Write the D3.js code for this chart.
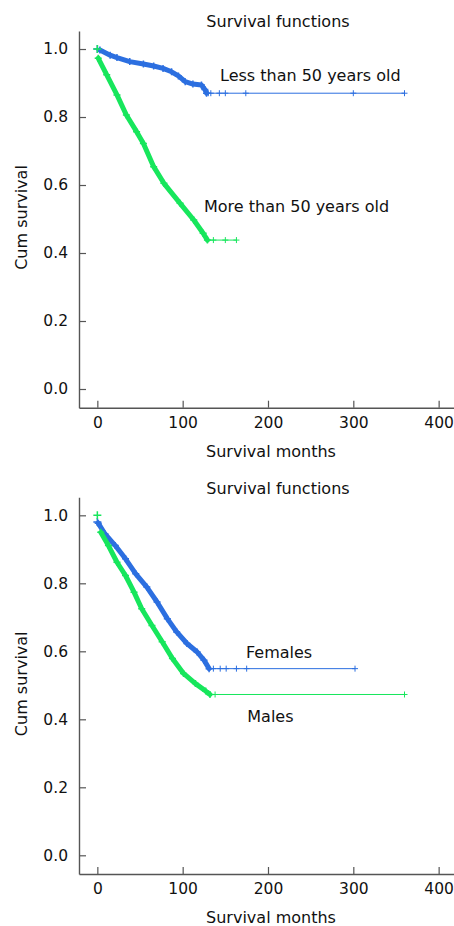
<!DOCTYPE html>
<html>
<head>
<meta charset="utf-8">
<script src="https://cdn.jsdelivr.net/npm/d3@7"></script>
<style>
  body { margin: 0; background: #fff; }
  svg { display: block; }
  text { font-family: "DejaVu Sans", Verdana, sans-serif; fill: #111; }
</style>
</head>
<body>
<svg id="chart" width="454" height="926"></svg>
<script>
// ticks
var xTicks = [0, 100, 200, 300, 400];
var yTicks = [0, 0.2, 0.4, 0.6, 0.8, 1.0];

// panel 1 - age groups
var youngMonths = [0, 3, 15, 23, 38, 54, 66, 77, 87, 95, 103, 112, 122, 126, 128];
var youngSurv = [1.0, 0.997, 0.982, 0.975, 0.963, 0.956, 0.95, 0.943, 0.933, 0.921, 0.904, 0.897, 0.894, 0.881, 0.87];
var youngCensor = [130, 133, 143, 150, 174, 300, 360];

var oldMonths = [0, 1, 11, 23, 34, 46, 54, 66, 78, 97, 113, 124, 129];
var oldSurv = [1.0, 0.973, 0.924, 0.865, 0.806, 0.757, 0.722, 0.654, 0.605, 0.546, 0.497, 0.458, 0.438];
var oldCensor = [136, 150, 163];

// panel 2 - sex
var femaleMonths = [0, 1, 9, 21, 33, 45, 58, 70, 82, 93, 105, 117, 125, 131];
var femaleSurv = [0.98, 0.977, 0.945, 0.911, 0.872, 0.828, 0.789, 0.745, 0.696, 0.657, 0.623, 0.598, 0.574, 0.549];
var femaleCensor = [136, 144, 151, 163, 175, 302];

var maleMonths = [0, 4, 13, 23, 33, 43, 52, 64, 76, 88, 101, 115, 127, 132];
var maleSurv = [1.0, 0.95, 0.911, 0.862, 0.823, 0.774, 0.725, 0.676, 0.628, 0.579, 0.535, 0.505, 0.483, 0.473];
var maleCensor = [138, 360];

var blue = "#2c6fe0";
var green = "#17e65c";

var svg = d3.select("#chart");

function makeSeries(months, surv, censor, color) {
    return {
        pts: months.map(function (m, i) { return [m, surv[i]]; }),
        censor: censor,
        color: color
    };
}

function plus(g, cx, cy, r, color, w) {
    g.append("path")
        .attr("d", "M" + (cx - r) + "," + cy + "H" + (cx + r) + "M" + cx + "," + (cy - r) + "V" + (cy + r))
        .attr("stroke", color)
        .attr("stroke-width", w)
        .attr("fill", "none");
}

function panel(off, series, labels) {
    var g = svg.append("g");
    var x = d3.scaleLinear().domain([-21.5, 418]).range([79, 454]);
    var y = d3.scaleLinear().domain([-0.055, 1.053]).range([off + 407.7, off + 31]);

    //AXES
    var xAxis = d3.axisBottom(x).tickValues(xTicks).tickSize(-7).tickSizeOuter(0).tickPadding(9);
    var yAxis = d3.axisLeft(y).tickValues(yTicks).tickSize(-7).tickSizeOuter(0).tickPadding(11)
        .tickFormat(d3.format(".1f"));

    var gx = g.append("g").attr("transform", "translate(0," + y.range()[0] + ")").call(xAxis);
    var gy = g.append("g").attr("transform", "translate(79,0)").call(yAxis);
    [gx, gy].forEach(function (a) {
        a.select(".domain").attr("stroke", "#555").attr("stroke-width", 1.4);
        a.selectAll(".tick line").attr("stroke", "#555").attr("stroke-width", 1.2);
        a.selectAll(".tick text")
            .attr("font-family", "DejaVu Sans")
            .attr("font-size", "15.5px")
            .attr("fill", "#111");
    });

    //CURVES
    var line = d3.line().x(function (d) { return x(d[0]); }).y(function (d) { return y(d[1]); });
    series.forEach(function (s) {
        var last = s.pts[s.pts.length - 1];
        var tailEnd = d3.max(s.censor);
        g.append("path")
            .attr("d", line([last, [tailEnd, last[1]]]))
            .attr("stroke", s.color)
            .attr("stroke-width", 1)
            .attr("fill", "none");
        s.censor.forEach(function (c) {
            plus(g, x(c), y(last[1]), 3, s.color, 1);
        });
        g.append("path")
            .attr("d", line(s.pts.slice(1)))
            .attr("stroke", s.color)
            .attr("stroke-width", 5)
            .attr("stroke-linejoin", "round")
            .attr("stroke-linecap", "round")
            .attr("fill", "none");
        s.pts.forEach(function (p, i) {
            plus(g, x(p[0]), y(p[1]), i == 0 ? 4 : 3.5, s.color, 1.5);
        });
    });

    //TEXTS
    g.append("text").attr("x", 278).attr("y", off + 27.3)
        .attr("text-anchor", "middle").attr("font-size", "16px").text("Survival functions");
    g.append("text").attr("x", 271).attr("y", off + 456.7)
        .attr("text-anchor", "middle").attr("font-size", "16px").text("Survival months");
    g.append("text").attr("transform", "translate(27," + (off + 217.5) + ") rotate(-90)")
        .attr("text-anchor", "middle").attr("font-size", "16px").text("Cum survival");
    labels.forEach(function (l) {
        g.append("text").attr("x", l.x).attr("y", l.y).attr("font-size", "16px").text(l.t);
    });
}

panel(0, [
    makeSeries(youngMonths, youngSurv, youngCensor, blue),
    makeSeries(oldMonths, oldSurv, oldCensor, green)
], [
    { t: "Less than 50 years old", x: 220, y: 81 },
    { t: "More than 50 years old", x: 204, y: 211.7 }
]);

panel(466.3, [
    makeSeries(femaleMonths, femaleSurv, femaleCensor, blue),
    makeSeries(maleMonths, maleSurv, maleCensor, green)
], [
    { t: "Females", x: 246, y: 658.3 },
    { t: "Males", x: 247.3, y: 721.7 }
]);
</script>
</body>
</html>
